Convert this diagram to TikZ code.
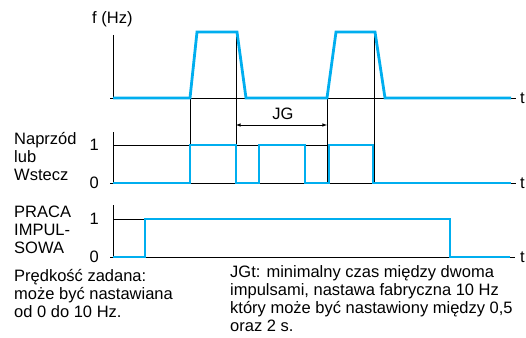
\documentclass[tikz,border=0pt]{standalone}
\usepackage{fontspec}
\setmainfont{Liberation Sans}
\definecolor{pulse}{RGB}{0,174,239}
\begin{document}
\begin{tikzpicture}[x = 1pt, y = -1pt,
  sig/.style = {draw = pulse, line width = 2.8pt, line join = miter},
  thin/.style = {draw = black, line width = 0.6pt},
  lbl/.style = {font = \fontsize{16.5}{19}\selectfont, inner sep = 0pt}]
\useasboundingbox (0,0) rectangle (526,337);
% osie
\draw[thin] (113,35) -- (113,98) (110,98) -- (516,98);
\draw[thin] (113,132) -- (113,183) (110,183) -- (516,183) (113,145) -- (374,145);
\draw[thin] (113,205) -- (113,257) (110,257) -- (515,257) (113,219) -- (450,219);
% linie pomocnicze
\foreach \x/\y in {190/98, 236/32, 327/98, 374/32}
{
	\draw[thin] (\x,\y) -- (\x,183);
}
\draw[thin, latex-latex] (236,125) -- (327,125);
\node[lbl, anchor = base] (jg) at (283,119) {JG};
% sygnaly
\draw[sig] (113,98) -- (190,98) -- (197,32) -- (237,32) -- (246,98) -- (327,98)
  -- (336,32) -- (375,32) -- (385,98) -- (511,98);
\draw[sig] (113,183) -- (190,183) -- (190,145) -- (236,145) -- (236,183) -- (259,183)
  -- (259,145) -- (305,145) -- (305,183) -- (329,183) -- (329,145) -- (373,145)
  -- (373,183) -- (511,183);
\draw[sig] (113,257) -- (145,257) -- (145,219) -- (450,219) -- (450,257) -- (510,257);
% opisy
\node[lbl, anchor = base west] (fhz) at (92,24) {f (Hz)};
\foreach \y/\t in {98/top, 183/mid, 257/bot}
{
	\node[lbl, anchor = west] (t\t) at (520,\y) {t};
}
\foreach \y/\v/\n in {145/1/a, 183/0/b, 219/1/c, 257/0/d}
{
	\node[lbl, anchor = east] (v\n) at (99,\y) {\v};
}
\foreach \t [count = \i] in {Naprzód, lub, Wstecz}
{
	\node[lbl, anchor = base west] (kier\i) at (14,126.5+18*\i) {\t};
}
\foreach \t [count = \i] in {PRACA, IMPUL-, SOWA}
{
	\node[lbl, anchor = base west] (praca\i) at (14,199.5+18*\i) {\t};
}
\foreach \t [count = \i] in {Prędkość zadana:, może być nastawiana, od 0 do 10 Hz.}
{
	\node[lbl, anchor = base west] (zadana\i) at (14,263+18*\i) {\t};
}
\foreach \t [count = \i] in {JGt: minimalny czas między dwoma, {impulsami, nastawa fabryczna 10 Hz},
  {który może być nastawiony między 0,5}, oraz 2 s.}
{
	\node[lbl, anchor = base west] (jgt\i) at (230,259+18*\i) {\t};
}
\end{tikzpicture}
\end{document}
